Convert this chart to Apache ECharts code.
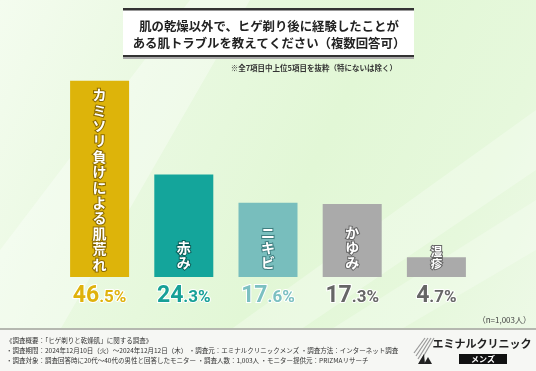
<!DOCTYPE html>
<html>
<head>
<meta charset="utf-8">
<script src="https://cdn.jsdelivr.net/npm/echarts@6/dist/echarts.min.js"></script>
<style>
html,body{margin:0;padding:0;}
#c{width:536px;height:371px;background:linear-gradient(115deg,#f4fcef 0%,#eaf9e2 25%,#e2f7d6 55%,#e6f8dc 80%,#eef9e8 100%);}
</style>
</head>
<body>
<div id="c"></div>
<script>
const categories = ['カミソリ負けによる肌荒れ', '赤み', 'ニキビ', 'かゆみ', '湿疹'];
const values = [46.5, 24.3, 17.6, 17.3, 4.7];
const barColors = ['#ddb40a', '#14a59b', '#78bebd', '#aaaaaa', '#aaaaaa'];
const labelColors = ['#dfb20c', '#17a097', '#7cc0c1', '#666666', '#666666'];
const outlineColors = ['#8a6a00', '#0b5f5a', '#3f7f80', '#666666', '#666666'];
const titleLines = ['肌の乾燥以外で、ヒゲ剃り後に経験したことが', 'ある肌トラブルを教えてください（複数回答可）'];
const noteText = '※全7項目中上位5項目を抜粋（特にないは除く）';
const sampleText = '（n=1,003人）';
const footerLines = [
  '《調査概要：「ヒゲ剃りと乾燥肌」に関する調査》',
  '・調査期間：2024年12月10日（火）～2024年12月12日（木） ・調査元：エミナルクリニックメンズ ・調査方法：インターネット調査',
  '・調査対象：調査回答時に20代～40代の男性と回答したモニター ・調査人数：1,003人 ・モニター提供元：PRIZMAリサーチ'
];
const logoText = 'エミナルクリニック';
const logoSub = 'メンズ';

const JP = '"Noto Sans CJK JP", sans-serif';

const rich = {};
labelColors.forEach((c, i) => {
  rich['b' + i] = {fontFamily: 'Roboto', fontWeight: 'bold', fontSize: 23, color: c, textBorderColor: '#fff', textBorderWidth: 2, lineHeight: 24};
  rich['s' + i] = {fontFamily: 'Roboto', fontWeight: 'bold', fontSize: 17, color: c, textBorderColor: '#fff', textBorderWidth: 2, lineHeight: 24, padding: [4, 0, 0, 0]};
});

const chart = echarts.init(document.getElementById('c'), null, {renderer: 'canvas'});

const graphics = [
  {type: 'polygon', shape: {points: [[0, 250], [0, 330], [60, 330], [250, 0], [190, 0]]}, style: {fill: 'rgba(255,255,255,0.35)'}, z: -10},
  {type: 'polygon', shape: {points: [[230, 330], [300, 330], [536, 170], [536, 110]]}, style: {fill: 'rgba(255,255,255,0.28)'}, z: -10},
  {type: 'polygon', shape: {points: [[330, 330], [400, 330], [536, 250], [536, 200]]}, style: {fill: 'rgba(255,255,255,0.25)'}, z: -10},
  {type: 'rect', shape: {x: 123, y: 9, width: 291, height: 47}, style: {fill: '#ffffff'}},
  {type: 'rect', shape: {x: 123, y: 8, width: 291, height: 2}, style: {fill: '#333333'}},
  {type: 'rect', shape: {x: 123, y: 10, width: 291, height: 1}, style: {fill: '#999999'}},
  {type: 'rect', shape: {x: 123, y: 55, width: 291, height: 2}, style: {fill: '#333333'}},
  {type: 'rect', shape: {x: 123, y: 57, width: 291, height: 2}, style: {fill: '#aaaaaa'}},
  {type: 'text', x: 269, y: 26, style: {text: titleLines[0], font: 'bold 12.4px ' + JP, fill: '#222', textAlign: 'center', textVerticalAlign: 'middle'}},
  {type: 'text', x: 269, y: 43, style: {text: titleLines[1], font: 'bold 12.4px ' + JP, fill: '#222', textAlign: 'center', textVerticalAlign: 'middle'}},
  {type: 'text', x: 397, y: 68, style: {text: noteText, font: 'bold 7.5px ' + JP, fill: '#333', textAlign: 'right', textVerticalAlign: 'middle'}},
  {type: 'text', x: 531, y: 320, style: {text: sampleText, font: '8px ' + JP, fill: '#444', textAlign: 'right', textVerticalAlign: 'middle'}},
  {type: 'rect', shape: {x: 0, y: 330, width: 536, height: 41}, style: {fill: '#f6f7f4'}},
  {type: 'rect', shape: {x: 0, y: 328, width: 536, height: 2}, style: {fill: '#b5b8b0'}},
  {type: 'text', x: 6, y: 341, style: {text: footerLines[0], font: '6.5px ' + JP, fill: '#333', textVerticalAlign: 'middle'}},
  {type: 'text', x: 6, y: 351, style: {text: footerLines[1], font: '6.5px ' + JP, fill: '#333', textVerticalAlign: 'middle'}},
  {type: 'text', x: 6, y: 361, style: {text: footerLines[2], font: '6.5px ' + JP, fill: '#333', textVerticalAlign: 'middle'}},
  {type: 'polyline', shape: {points: [[414, 353], [425, 338]]}, style: {stroke: '#999', lineWidth: 1.2}},
  {type: 'polyline', shape: {points: [[416, 356], [428, 338]]}, style: {stroke: '#999', lineWidth: 1.2}},
  {type: 'polyline', shape: {points: [[418, 359], [431, 338]]}, style: {stroke: '#999', lineWidth: 1.2}},
  {type: 'polyline', shape: {points: [[420, 362], [434, 338]]}, style: {stroke: '#999', lineWidth: 1.2}},
  {type: 'polygon', shape: {points: [[418, 364], [424, 354], [425, 364]]}, style: {fill: '#222'}},
  {type: 'polygon', shape: {points: [[424, 364], [428, 357], [432, 364]]}, style: {fill: '#222'}},
  {type: 'text', x: 482, y: 344, style: {text: logoText, font: 'bold 11px ' + JP, fill: '#222', textAlign: 'center', textVerticalAlign: 'middle'}},
  {type: 'rect', shape: {x: 459, y: 354, width: 48, height: 10}, style: {fill: '#111'}},
  {type: 'text', x: 483, y: 359, style: {text: logoSub, font: 'bold 8px ' + JP, fill: '#fff', textAlign: 'center', textVerticalAlign: 'middle'}}
];

const option = {
  animation: false,
  grid: {left: 57.5, right: 57.5, top: 66, bottom: 94},
  xAxis: {
    type: 'category',
    data: categories,
    axisLine: {show: false},
    axisTick: {show: false},
    axisLabel: {
      margin: 7,
      interval: 0,
      formatter: function (name, idx) {
        const s = values[idx].toFixed(1).split('.');
        return '{b' + idx + '|' + s[0] + '}{s' + idx + '|.' + s[1] + '%}';
      },
      rich: rich
    }
  },
  yAxis: {type: 'value', min: 0, max: 50, show: false, splitLine: {show: false}},
  series: [{
    type: 'bar',
    barWidth: 59,
    data: values.map((v, i) => ({
      value: v,
      itemStyle: {color: barColors[i]},
      label: {
        show: true,
        position: 'insideBottom',
        distance: i === 0 ? 5 : 7,
        formatter: categories[i].split('').join('\n'),
        fontFamily: JP,
        fontWeight: 'bold',
        fontSize: i === 4 ? 11.5 : 14,
        lineHeight: i === 0 ? 15.4 : (i === 4 ? 12 : 15),
        color: '#fff',
        textBorderColor: outlineColors[i],
        textBorderWidth: 2
      }
    }))
  }],
  graphic: graphics
};
chart.setOption(option);
</script>
</body>
</html>
